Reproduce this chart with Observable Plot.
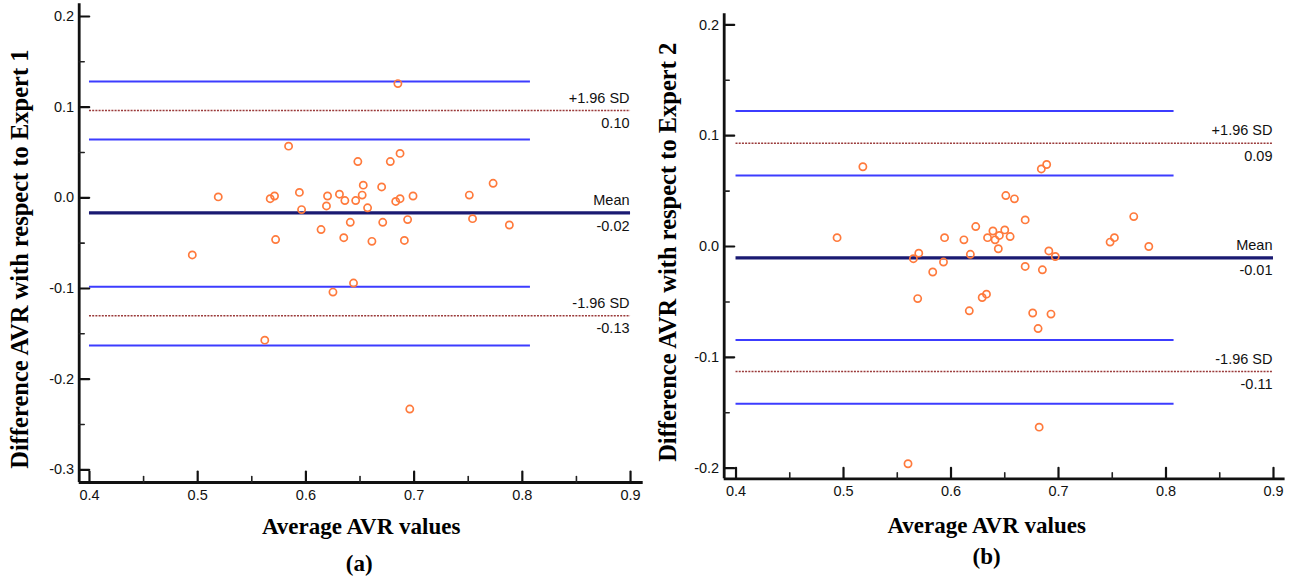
<!DOCTYPE html>
<html><head><meta charset="utf-8">
<script src="https://cdn.jsdelivr.net/npm/d3@7"></script>
<script src="https://cdn.jsdelivr.net/npm/@observablehq/plot@0.6"></script>
<style>
body{margin:0;background:#fff;}
#wrap{position:relative;width:1296px;height:579px;overflow:hidden;background:#fff;}
#pa,#pb{position:absolute;top:0;}
#pa{left:0;} #pb{left:650px;}
svg{overflow:visible;}
</style></head><body><div id="wrap"><div id="pa"></div><div id="pb"></div></div>
<script>
// ---------- data ----------
const xTicks = [0.4, 0.5, 0.6, 0.7, 0.8, 0.9];
const xMinor = [0.45, 0.55, 0.65, 0.75, 0.85];
const yTicksA = [-0.3, -0.2, -0.1, 0.0, 0.1, 0.2];
const yMinorA = [-0.25, -0.15, -0.05, 0.05, 0.15];
const yTicksB = [-0.2, -0.1, 0.0, 0.1, 0.2];
const yMinorB = [-0.15, -0.05, 0.05, 0.15];

// Panel (a): Expert 1
const avgA = [0.584,0.519,0.567,0.571,0.594,0.596,0.620,0.619,0.631,0.636,0.646,0.648,0.653,0.652,0.657,0.670,0.678,0.687,0.683,0.687,0.699,0.751,0.773,0.495,0.572,0.614,0.635,0.641,0.661,0.671,0.691,0.694,0.754,0.788,0.644,0.625,0.562,0.696,0.685];
const diffA = [0.057,0.001,-0.001,0.002,0.006,-0.013,0.002,-0.009,0.004,-0.003,-0.003,0.040,0.014,0.003,-0.011,0.012,0.040,0.049,-0.004,-0.001,0.002,0.003,0.016,-0.063,-0.046,-0.035,-0.044,-0.027,-0.048,-0.027,-0.047,-0.024,-0.023,-0.030,-0.094,-0.104,-0.157,-0.233,0.126];
const meanA = -0.0166, loaHiA = 0.0962, loaLoA = -0.130;
const ciA = [0.1283, 0.0642, -0.098, -0.1628];
const annTopA = ["+1.96 SD", "Mean", "-1.96 SD"];
const annValA = ["0.10", "-0.02", "-0.13"];

// Panel (b): Expert 2
const avgB = [0.518,0.684,0.689,0.651,0.659,0.669,0.623,0.639,0.650,0.634,0.641,0.645,0.655,0.644,0.494,0.594,0.612,0.770,0.752,0.748,0.784,0.570,0.565,0.593,0.583,0.618,0.691,0.697,0.669,0.685,0.569,0.629,0.633,0.617,0.676,0.693,0.681,0.682,0.560];
const diffB = [0.072,0.070,0.074,0.046,0.043,0.024,0.018,0.014,0.015,0.008,0.006,0.010,0.009,-0.002,0.008,0.008,0.006,0.027,0.008,0.004,0.000,-0.006,-0.011,-0.014,-0.023,-0.007,-0.004,-0.009,-0.018,-0.021,-0.047,-0.046,-0.043,-0.058,-0.060,-0.061,-0.074,-0.163,-0.196];
const meanB = -0.0102, loaHiB = 0.0932, loaLoB = -0.1128;
const ciB = [0.1222, 0.064, -0.0844, -0.1418];
const annTopB = ["+1.96 SD", "Mean", "-1.96 SD"];
const annValB = ["0.09", "-0.01", "-0.11"];

const ciStart = 0.4, ciEnd = 0.8075, lineEnd = 0.9;

// ---------- drawing ----------
const tickShape = {draw(ctx, l) { ctx.moveTo(0, 0); ctx.lineTo(0, -l); }};
const fmt = d => d.toFixed(1);
const sans = "'Liberation Sans', Arial, Helvetica, sans-serif";
const serif = "'Liberation Serif', 'Times New Roman', serif";

function panel(o) {
  const [x0, x1] = o.xDomain, [y0, y1] = o.yDomain;
  const pts = o.avg.map((a, i) => ({a, d: o.diff[i]}));
  const loas = [o.loaHi, o.mean, o.loaLo];
  const ann = loas.map((y, i) => ({y, top: o.annTop[i], val: o.annVal[i]}));
  return Plot.plot({
    width: o.width, height: 579,
    marginLeft: o.ml, marginRight: o.mr, marginTop: o.mt, marginBottom: o.mb,
    x: {domain: o.xDomain},
    y: {domain: o.yDomain},
    style: {fontFamily: sans, fontSize: "14px", color: "#111", background: "transparent", overflow: "visible"},
    marks: [
      Plot.axisX(xTicks, {tickSize: 0, tickPadding: 7, tickFormat: fmt, label: null, fontSize: 14.5, fill: "#111"}),
      Plot.axisY(o.yTicks, {tickSize: 0, tickPadding: 5, tickFormat: fmt, label: null, fontSize: 14.5, fill: "#111"}),
      // CI lines (blue)
      Plot.ruleY(o.ci, {y: d => d, x1: ciStart, x2: ciEnd, stroke: "#3c3cff", strokeWidth: 2}),
      // limits of agreement (dotted)
      Plot.ruleY([o.loaHi, o.loaLo], {y: d => d, x1: ciStart, x2: lineEnd, stroke: "#9a3a3a", strokeWidth: 1.5, strokeDasharray: "2,1.2"}),
      // mean
      Plot.ruleY([o.mean], {y: d => d, x1: ciStart, x2: lineEnd, stroke: "#1a1a72", strokeWidth: 3.2}),
      // annotations
      Plot.text(ann, {x: lineEnd, y: "y", text: "top", textAnchor: "end", dx: -1, dy: -12.5, fontSize: 14.5, fill: "#111"}),
      Plot.text(ann, {x: lineEnd, y: "y", text: "val", textAnchor: "end", dx: -1, dy: 13, fontSize: 14.5, fill: "#111"}),
      // points
      Plot.dot(pts, {x: "a", y: "d", r: 3.6, stroke: "#ff7a3c", strokeWidth: 1.7, fill: "none"}),
      // axis lines
      Plot.ruleX([x0], {y1: y0, y2: y1, stroke: "#111", strokeWidth: 2.8}),
      Plot.ruleY([y0], {x1: x0, x2: x1, stroke: "#111", strokeWidth: 2.8}),
      // inward ticks
      Plot.vector(xTicks, {x: d => d, y: y0, length: 11, anchor: "start", shape: tickShape, stroke: "#111", strokeWidth: 2.2}),
      Plot.vector(xMinor, {x: d => d, y: y0, length: 6, anchor: "start", shape: tickShape, stroke: "#222", strokeWidth: 1.6}),
      Plot.vector(o.yTicks, {x: x0, y: d => d, rotate: 90, length: 10, anchor: "start", shape: tickShape, stroke: "#111", strokeWidth: 2.2}),
      Plot.vector(o.yMinor, {x: x0, y: d => d, rotate: 90, length: 5, anchor: "start", shape: tickShape, stroke: "#222", strokeWidth: 1.6}),
      // titles
      Plot.text([o.yTitle], {frameAnchor: "left", rotate: -90, textAnchor: "middle", lineAnchor: "middle", dx: o.ytDx, dy: o.ytDy, fontFamily: serif, fontWeight: "bold", fontSize: o.ytSize, fill: "#000"}),
      Plot.text(["Average AVR values"], {frameAnchor: "bottom", textAnchor: "middle", lineAnchor: "middle", dx: o.xtDx, dy: o.xtDy, fontFamily: serif, fontWeight: "bold", fontSize: 23, fill: "#000"}),
      Plot.text([o.letter], {frameAnchor: "bottom", textAnchor: "middle", lineAnchor: "middle", dx: o.ltDx, dy: o.ltDy, fontFamily: serif, fontWeight: "bold", fontSize: 23, fill: "#000"})
    ]
  });
}

document.getElementById("pa").append(panel({
  width: 650, ml: 78.7, mr: 7.3, mt: 3.3, mb: 97,
  xDomain: [0.3905, 0.9117], yDomain: [-0.314, 0.214],
  yTicks: yTicksA, yMinor: yMinorA,
  avg: avgA, diff: diffA, mean: meanA, loaHi: loaHiA, loaLo: loaLoA, ci: ciA,
  annTop: annTopA, annVal: annValA,
  yTitle: "Difference AVR with respect to Expert 1", ytDx: -59, ytDy: 16, ytSize: 24.5,
  letter: "(a)", xtDx: 0, xtDy: 44, ltDx: -2, ltDy: 81
}));
document.getElementById("pb").append(panel({
  width: 646, ml: 73.7, mr: 11.4, mt: 13.3, mb: 100.7,
  xDomain: [0.389, 0.9108], yDomain: [-0.2096, 0.21],
  yTicks: yTicksB, yMinor: yMinorB,
  avg: avgB, diff: diffB, mean: meanB, loaHi: loaHiB, loaLo: loaLoB, ci: ciB,
  annTop: annTopB, annVal: annValB,
  yTitle: "Difference AVR with respect to Expert 2", ytDx: -56, ytDy: 6, ytSize: 24.5,
  letter: "(b)", xtDx: -18, xtDy: 47, ltDx: -18, ltDy: 78
}));
</script>
</body></html>
